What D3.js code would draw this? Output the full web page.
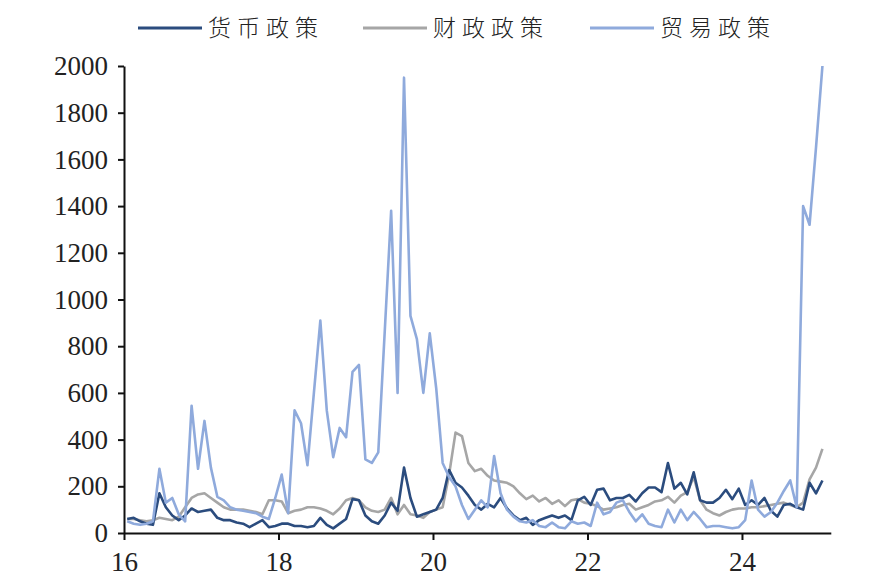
<!DOCTYPE html>
<html><head><meta charset="utf-8">
<script src="https://cdn.jsdelivr.net/npm/d3@7"></script>
<style>
html,body{margin:0;padding:0;background:#fff;}
svg{display:block;}
.axis text{font-family:"Liberation Serif","Times New Roman",serif;font-size:27px;fill:#222;}
.legend text{font-family:"Noto Sans CJK SC",sans-serif;font-size:23px;fill:#222;letter-spacing:6px;font-weight:300;}
</style></head>
<body>
<svg id="chart" width="882" height="587"></svg>
<script>
// Monthly observations, Jan 2016 - Jan 2025
const startYear = 2016;
const seriesNames = ["货币政策", "财政政策", "贸易政策"];
const monetary = [60,65,50,40,35,170,110,75,55,75,105,90,95,100,65,55,55,45,40,25,40,55,25,30,40,
  40,30,30,25,30,65,35,20,40,60,145,
  140,75,50,40,75,130,95,280,150,70,80,90,100,150,270,215,195,160,120,100,125,110,150,105,
  75,55,65,35,55,65,75,65,75,55,140,155,
  120,185,190,140,150,150,163,135,170,195,195,175,
  300,190,215,165,260,140,130,130,150,185,145,190,
  120,140,120,150,95,70,120,125,110,100,215,170,225];
const fiscal = [60,60,55,50,55,65,60,55,70,110,150,165,170,150,130,110,100,100,100,95,90,80,140,140,135,
  85,95,100,110,110,105,95,80,105,140,150,
  140,110,95,90,100,150,80,120,80,75,65,90,100,110,250,430,415,300,265,275,245,225,220,215,
  200,170,145,160,135,150,125,140,115,140,145,130,
  125,115,100,105,110,120,125,100,110,120,135,140,
  155,130,160,175,240,140,100,85,75,90,100,105,
  105,110,110,115,120,125,130,120,110,130,230,280,360];
const trade = [50,40,35,40,50,275,130,150,80,50,545,275,480,280,155,140,110,100,95,90,85,70,60,150,250,
  85,525,470,290,600,910,525,325,450,410,690,
  720,315,300,345,860,1380,600,1950,930,830,600,855,620,300,240,200,120,60,100,140,110,330,170,100,
  70,50,45,55,30,25,45,25,20,50,40,45,
  30,130,80,90,130,140,90,50,80,40,30,25,
  100,45,100,55,90,60,25,30,30,25,20,25,
  55,225,100,70,90,130,180,225,110,1400,1320,1650,2000];
const yTicks = [0,200,400,600,800,1000,1200,1400,1600,1800,2000];
const xTicks = [16,18,20,22,24];
const colors = ["#2B4C7E", "#A6A6A6", "#8FAADC"];

const svg = d3.select("#chart");
const x = d3.scaleLinear().domain([16, 25.15]).range([124, 830.8]);
const y = d3.scaleLinear().domain([0, 2000]).range([533, 66]);

const xv = i => (startYear - 2000) + (i + 0.5) / 12;

// axes
const yAxis = svg.append("g").attr("class", "axis").attr("transform", "translate(124,0)")
  .call(d3.axisLeft(y).tickValues(yTicks).tickSize(6).tickSizeOuter(0).tickPadding(10).tickFormat(d3.format("d")));
const xAxis = svg.append("g").attr("class", "axis").attr("transform", "translate(0,533)")
  .call(d3.axisBottom(x).tickValues(xTicks).tickSize(7).tickSizeOuter(0).tickPadding(12).tickFormat(d3.format("d")));
[yAxis, xAxis].forEach(g => {
  g.attr("font-family", null).attr("font-size", null);
  g.selectAll("path.domain").attr("stroke", "#111").attr("stroke-width", 2);
  g.selectAll(".tick line").attr("stroke", "#111").attr("stroke-width", 2);
  g.selectAll("text").attr("fill", null);
});

// lines
const line = d3.line().x((d, i) => x(xv(i))).y(d => y(d));
const data = [fiscal, monetary, trade];
const cols = [colors[1], colors[0], colors[2]];
data.forEach((s, k) => {
  svg.append("path").datum(s).attr("d", line)
    .attr("fill", "none").attr("stroke", cols[k]).attr("stroke-width", 2.6)
    .attr("stroke-linejoin", "round");
});

// legend
const legendItems = [
  {name: seriesNames[0], color: colors[0], x0: 138},
  {name: seriesNames[1], color: colors[1], x0: 363},
  {name: seriesNames[2], color: colors[2], x0: 590}
];
const lg = svg.append("g").attr("class", "legend");
legendItems.forEach(it => {
  lg.append("line").attr("x1", it.x0).attr("x2", it.x0 + 64).attr("y1", 28).attr("y2", 28)
    .attr("stroke", it.color).attr("stroke-width", 3);
  lg.append("text").attr("x", it.x0 + 70).attr("y", 36).text(it.name);
});
</script>
</body></html>
